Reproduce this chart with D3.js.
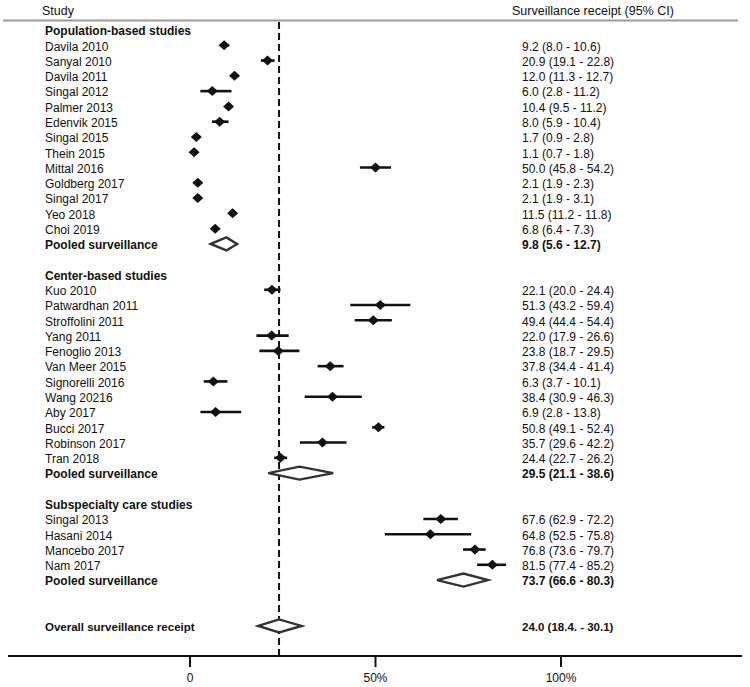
<!DOCTYPE html>
<html><head><meta charset="utf-8">
<script src="https://cdn.jsdelivr.net/npm/d3@7"></script>
<style>
html,body{margin:0;padding:0;background:#fff;}
text{font-family:"Liberation Sans",Arial,sans-serif;font-size:12px;fill:#111;}
</style></head>
<body>
<svg id="chart" width="750" height="687"></svg>
<script>
// ---- data ----
const groups = ["Population-based studies", "Center-based studies", "Subspecialty care studies"];

const popStudies = ["Davila 2010","Sanyal 2010","Davila 2011","Singal 2012","Palmer 2013","Edenvik 2015","Singal 2015","Thein 2015","Mittal 2016","Goldberg 2017","Singal 2017","Yeo 2018","Choi 2019"];
const popEst   = [9.2,20.9,12.0,6.0,10.4,8.0,1.7,1.1,50.0,2.1,2.1,11.5,6.8];
const popLow   = [8.0,19.1,11.3,2.8,9.5,5.9,0.9,0.7,45.8,1.9,1.9,11.2,6.4];
const popHigh  = [10.6,22.8,12.7,11.2,11.2,10.4,2.8,1.8,54.2,2.3,3.1,11.8,7.3];

const cenStudies = ["Kuo 2010","Patwardhan 2011","Stroffolini 2011","Yang 2011","Fenoglio 2013","Van Meer 2015","Signorelli 2016","Wang 20216","Aby 2017","Bucci 2017","Robinson 2017","Tran 2018"];
const cenEst   = [22.1,51.3,49.4,22.0,23.8,37.8,6.3,38.4,6.9,50.8,35.7,24.4];
const cenLow   = [20.0,43.2,44.4,17.9,18.7,34.4,3.7,30.9,2.8,49.1,29.6,22.7];
const cenHigh  = [24.4,59.4,54.4,26.6,29.5,41.4,10.1,46.3,13.8,52.4,42.2,26.2];

const subStudies = ["Singal 2013","Hasani 2014","Mancebo 2017","Nam 2017"];
const subEst   = [67.6,64.8,76.8,81.5];
const subLow   = [62.9,52.5,73.6,77.4];
const subHigh  = [72.2,75.8,79.7,85.2];

const pooledLabel = "Pooled surveillance";
const pooledEst  = [9.8,29.5,73.7];
const pooledLow  = [5.6,21.1,66.6];
const pooledHigh = [12.7,38.6,80.3];

const overallLabel = "Overall surveillance receipt";
const overallEst = 24.0, overallLow = 18.4, overallHigh = 30.1;
const overallText = "24.0 (18.4. - 30.1)";

const tickValues = [0,50,100];
const tickLabels = ["0","50%","100%"];
const headerLeft = "Study";
const headerRight = "Surveillance receipt (95% CI)";

// ---- build rows ----
const studySets = [
  {names: popStudies, est: popEst, lo: popLow, hi: popHigh},
  {names: cenStudies, est: cenEst, lo: cenLow, hi: cenHigh},
  {names: subStudies, est: subEst, lo: subLow, hi: subHigh}
];
const f1 = d3.format(".1f");
const rows = [];
let idx = 0;
studySets.forEach((s, g) => {
  rows.push({type:"group", label: groups[g], i: idx++});
  s.names.forEach((n, k) => rows.push({type:"study", label:n, est:s.est[k], lo:s.lo[k], hi:s.hi[k], i: idx++}));
  rows.push({type:"pooled", label: pooledLabel, est:pooledEst[g], lo:pooledLow[g], hi:pooledHigh[g], i: idx++});
  idx++; // blank
});
idx++; // extra blank
rows.push({type:"overall", label: overallLabel, est:overallEst, lo:overallLow, hi:overallHigh, i: idx++, text: overallText});
rows.forEach(r => { if (r.type !== "group" && !r.text) r.text = `${f1(r.est)} (${f1(r.lo)} - ${f1(r.hi)})`; });

// ---- scales ----
const svg = d3.select("#chart");
const x = d3.scaleLinear().domain([0,100]).range([190,561]);
const y = d3.scaleLinear().domain([0, idx-1]).range([31, 31 + (idx-1)*15.28]);
const axisY = 656;

// header
svg.append("text").attr("x",42).attr("y",15).text(headerLeft).style("font-size","12.5px");
svg.append("text").attr("x",512).attr("y",15).text(headerRight).style("font-size","12.5px");
svg.append("line").attr("x1",3).attr("x2",738).attr("y1",20.5).attr("y2",20.5)
  .attr("stroke","#9a9a9a").attr("stroke-width",2);

// dashed overall line
svg.append("line").attr("x1",x(overallEst)).attr("x2",x(overallEst))
  .attr("y1",22).attr("y2",axisY)
  .attr("stroke","#111").attr("stroke-width",2).attr("stroke-dasharray","7,4");

// labels
svg.selectAll("text.lab").data(rows).join("text").attr("class","lab")
  .attr("x",45).attr("y",d=>y(d.i)).attr("dy","0.36em")
  .style("font-weight", d => d.type==="study" ? "normal" : "bold")
  .style("font-size", d => d.type==="overall" ? "11.5px" : "12px")
  .text(d=>d.label);

svg.selectAll("text.val").data(rows.filter(r=>r.type!=="group")).join("text").attr("class","val")
  .attr("x",522).attr("y",d=>y(d.i)).attr("dy","0.36em")
  .style("font-weight", d => d.type==="study" ? "normal" : "bold")
  .style("font-size", d => d.type==="overall" ? "11.5px" : "12px")
  .text(d=>d.text);

// CI lines + markers
const studies = rows.filter(r=>r.type==="study");
svg.selectAll("line.ci").data(studies).join("line").attr("class","ci")
  .attr("x1",d=>x(d.lo)).attr("x2",d=>x(d.hi)).attr("y1",d=>y(d.i)-1).attr("y2",d=>y(d.i)-1)
  .attr("stroke","#111").attr("stroke-width",2.6);
svg.selectAll("path.pt").data(studies).join("path").attr("class","pt")
  .attr("d", d => { const cx=x(d.est), cy=y(d.i)-1; return `M${cx-5.5},${cy}L${cx},${cy-5}L${cx+5.5},${cy}L${cx},${cy+5}Z`; })
  .attr("fill","#111");

// pooled diamonds
const pooled = rows.filter(r=>r.type==="pooled"||r.type==="overall");
svg.selectAll("path.dia").data(pooled).join("path").attr("class","dia")
  .attr("d", d => { const cy=y(d.i)-1, h=6.5; return `M${x(d.lo)},${cy}L${x(d.est)},${cy-h}L${x(d.hi)},${cy}L${x(d.est)},${cy+h}Z`; })
  .attr("fill","#fff").attr("stroke","#333").attr("stroke-width",2.4).attr("stroke-linejoin","miter");

// axis
svg.append("line").attr("x1",8).attr("x2",742).attr("y1",axisY).attr("y2",axisY)
  .attr("stroke","#111").attr("stroke-width",2);
const ax = svg.append("g");
ax.selectAll("line").data(tickValues).join("line")
  .attr("x1",d=>x(d)).attr("x2",d=>x(d)).attr("y1",axisY).attr("y2",axisY+11)
  .attr("stroke","#111").attr("stroke-width",2);
ax.selectAll("text").data(tickValues).join("text")
  .attr("x",d=>x(d)).attr("y",axisY+26).attr("text-anchor","middle")
  .text((d,i)=>tickLabels[i]);
</script>
</body></html>
